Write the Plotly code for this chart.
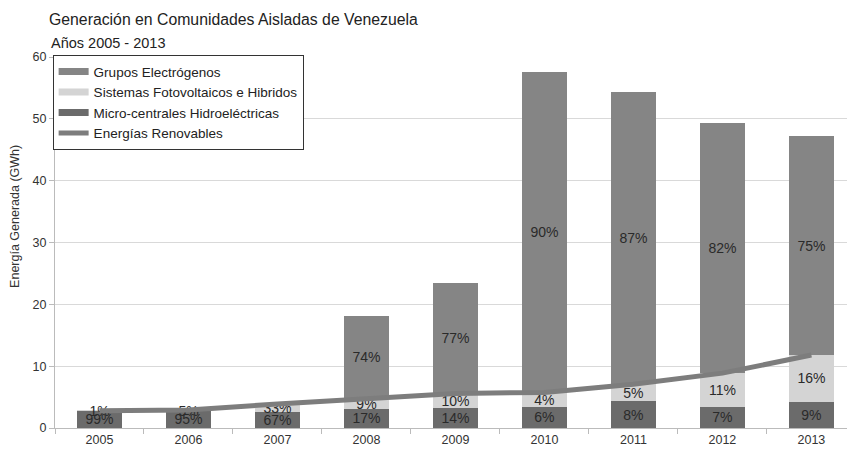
import plotly.graph_objects as go

# Energy generated in isolated communities, by technology (GWh)
years = ["2005", "2006", "2007", "2008", "2009", "2010", "2011", "2012", "2013"]
total_gwh = [2.8, 2.9, 3.9, 18.1, 23.2, 57.6, 54.4, 49.3, 47.2]
pct_grupos = [0, 0, 0, 74, 77, 90, 87, 82, 75]
pct_foto = [1, 5, 33, 9, 10, 4, 5, 11, 16]
pct_hidro = [99, 95, 67, 17, 14, 6, 8, 7, 9]

name_grupos = "Grupos Electrógenos"
name_foto = "Sistemas Fotovoltaicos e Hibridos"
name_hidro = "Micro-centrales Hidroeléctricas"
name_renov = "Energías Renovables"

c_grupos = "#858585"
c_foto = "#d4d4d4"
c_hidro = "#6b6b6b"
c_renov = "#7d7d7d"

FONT = "Liberation Sans, Arial, sans-serif"


def share(pcts):
    return [t * p / 100 for t, p in zip(total_gwh, pcts)]


def labels(pcts):
    return [f"{p}%" if p > 0 else "" for p in pcts]


hidro = share(pct_hidro)
foto = share(pct_foto)
grupos = share(pct_grupos)
renovables = [h + f for h, f in zip(hidro, foto)]

fig = go.Figure()

label_font = dict(family=FONT, size=14, color="#2a2a2a")
for vals, pcts, col in [(hidro, pct_hidro, c_hidro),
                        (foto, pct_foto, c_foto),
                        (grupos, pct_grupos, c_grupos)]:
    fig.add_trace(go.Bar(
        x=years, y=vals, marker=dict(color=col, line=dict(width=0)),
        text=labels(pcts), textposition="inside", insidetextanchor="middle",
        constraintext="none", textangle=0, cliponaxis=False,
        textfont=label_font, insidetextfont=label_font,
        outsidetextfont=label_font,
        showlegend=False, hoverinfo="skip",
    ))

# legend swatches (wide bars, as in the legend box)
for nm, col in [(name_grupos, c_grupos), (name_foto, c_foto), (name_hidro, c_hidro)]:
    fig.add_trace(go.Scatter(x=[None], y=[None], mode="lines", name=nm,
                             line=dict(color=col, width=7)))

fig.add_trace(go.Scatter(
    x=years, y=renovables, mode="lines", name=name_renov,
    line=dict(color=c_renov, width=5),
))

fig.update_layout(
    width=847, height=452,
    margin=dict(l=55, r=0, t=57, b=24),
    paper_bgcolor="white", plot_bgcolor="white",
    barmode="stack", bargap=0.5,
    font=dict(family=FONT, size=12, color="#333333"),
    legend=dict(x=-0.003, y=1.005, xanchor="left", yanchor="top",
                traceorder="normal",
                bgcolor="white", bordercolor="#333333", borderwidth=1,
                font=dict(family=FONT, size=13.5, color="#222222"),
                itemwidth=30, tracegroupgap=0),
    xaxis=dict(type="category", range=[-0.5, 8.4], tickson="boundaries",
               ticks="outside", ticklen=5, tickcolor="#bbbbbb",
               showline=True, linecolor="#bbbbbb", showgrid=False,
               tickfont=dict(size=12.5, color="#333333")),
    yaxis=dict(range=[0, 60], dtick=10, ticks="outside", ticklen=5,
               tickcolor="#bbbbbb", showline=True, linecolor="#bbbbbb",
               gridcolor="#d9d9d9", zeroline=False,
               tickfont=dict(size=12.5, color="#333333")),
    annotations=[
        dict(text="Generación en Comunidades Aisladas de Venezuela",
             xref="paper", yref="paper", x=-8 / 792, y=1 + 38 / 371,
             xanchor="left", yanchor="middle", showarrow=False,
             font=dict(family=FONT, size=15.8, color="#222222")),
        dict(text="Años 2005 - 2013",
             xref="paper", yref="paper", x=-6 / 792, y=1 + 14 / 371,
             xanchor="left", yanchor="middle", showarrow=False,
             font=dict(family=FONT, size=14.5, color="#222222")),
        dict(text="Energía Generada (GWh)", textangle=-90,
             xref="paper", yref="paper", x=-40 / 792, y=0.569,
             xanchor="center", yanchor="middle", showarrow=False,
             font=dict(family=FONT, size=12.5, color="#333333")),
    ],
)

fig.write_html("out.html")
